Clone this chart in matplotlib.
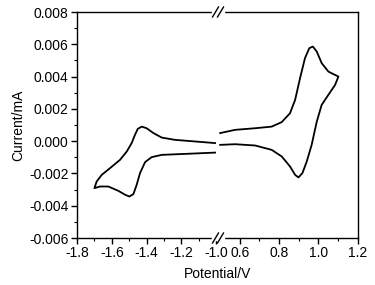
import numpy as np
import matplotlib.pyplot as plt
from matplotlib.ticker import MultipleLocator, FixedLocator

plt.rcParams['font.family'] = ['Liberation Sans', 'DejaVu Sans']
plt.rcParams['axes.unicode_minus'] = False

# negative potential loop (left panel)
v_neg = [-1.007, -1.122, -1.237, -1.313, -1.361, -1.40, -1.428, -1.451, -1.467,
         -1.486, -1.514, -1.553, -1.610, -1.658, -1.687, -1.700,
         -1.668, -1.620, -1.562, -1.524, -1.499, -1.476, -1.457, -1.438,
         -1.409, -1.371, -1.313, -1.179, -1.007]
i_neg = [-0.00012, -0.00002, 0.00008, 0.00022, 0.0005, 0.0008, 0.0009, 0.00076, 0.00039,
         -0.00012, -0.00064, -0.00116, -0.00167, -0.00209, -0.0025, -0.00291,
         -0.00281, -0.00281, -0.00308, -0.00332, -0.00343, -0.00328, -0.0027, -0.00198,
         -0.0013, -0.00099, -0.00085, -0.00079, -0.00071]

# positive potential loop (right panel)
v_pos = [0.501, 0.577, 0.679, 0.763, 0.814, 0.856, 0.882, 0.907, 0.932, 0.954,
         0.972, 0.992, 1.017, 1.051, 1.085, 1.102, 1.085, 1.051, 1.017, 0.992,
         0.966, 0.941, 0.919, 0.899, 0.882, 0.856, 0.814, 0.763, 0.679, 0.577, 0.501]
i_pos = [0.0005, 0.0007, 0.0008, 0.0009, 0.00118, 0.00173, 0.00256, 0.0039, 0.00514, 0.00576,
         0.00586, 0.00555, 0.00483, 0.00431, 0.0041, 0.0040, 0.00348, 0.00287, 0.00225, 0.00121,
         -0.00023, -0.00126, -0.00198, -0.00225, -0.00209, -0.00157, -0.00095, -0.00054, -0.00027,
         -0.00019, -0.00023]

W, H = 375, 285
fig = plt.figure(figsize=(W / 100, H / 100), dpi=100)
x0, xb, x1, yt, yb = 77, 218, 357.7, 12, 238
ax1 = fig.add_axes([x0 / W, 1 - yb / H, (xb - x0) / W, (yb - yt) / H])
ax2 = fig.add_axes([xb / W, 1 - yb / H, (x1 - xb) / W, (yb - yt) / H], sharey=ax1)

ax1.plot(v_neg, i_neg, color='black', lw=1.3, solid_joinstyle='round')
ax2.plot(v_pos, i_pos, color='black', lw=1.3, solid_joinstyle='round')

ax1.set_xlim(-1.8, -0.99)
ax2.set_xlim(0.49, 1.2)
ax1.set_ylim(-0.006, 0.008)

ax1.xaxis.set_major_locator(FixedLocator([-1.8, -1.6, -1.4, -1.2, -1.0]))
ax1.xaxis.set_minor_locator(MultipleLocator(0.1))
ax2.xaxis.set_major_locator(FixedLocator([0.6, 0.8, 1.0, 1.2]))
ax2.xaxis.set_minor_locator(FixedLocator([0.7, 0.9, 1.1]))
ax1.yaxis.set_major_locator(MultipleLocator(0.002))
ax1.yaxis.set_minor_locator(MultipleLocator(0.001))
ax1.yaxis.set_major_formatter(plt.FuncFormatter(lambda v, p: f"{v:.3f}"))
ax1.xaxis.set_major_formatter(plt.FuncFormatter(lambda v, p: f"{v:.1f}"))
ax2.xaxis.set_major_formatter(plt.FuncFormatter(lambda v, p: f"{v:.1f}"))

for ax in (ax1, ax2):
    for s in ax.spines.values():
        s.set_linewidth(1.0)
    ax.tick_params(which='major', direction='out', length=4, width=1.0, labelsize=10, pad=2)
    ax.tick_params(which='minor', direction='out', length=2.5, width=0.8)
ax1.spines['right'].set_visible(False)
ax2.spines['left'].set_visible(False)
ax2.tick_params(axis='y', which='both', left=False, labelleft=False)

ax1.set_ylabel('Current/mA', fontsize=10, labelpad=3)
fig.text((x0 + x1) / 2 / W, 1 - 278 / H, 'Potential/V', ha='center', va='baseline', fontsize=10)

# break marks
for y in (yt, yb):
    fig.patches.append(plt.Rectangle(((xb - 6) / W, 1 - (y + 2) / H), 12 / W, 4 / H,
                                     transform=fig.transFigure, color='white', zorder=5))
    for dx in (-2.5, 2.5):
        fig.lines.append(plt.Line2D([(xb + dx - 3) / W, (xb + dx + 3) / W],
                                    [1 - (y + 5) / H, 1 - (y - 5) / H],
                                    transform=fig.transFigure, color='black', lw=1.0, zorder=6))

fig.savefig('out.png', dpi=100)
